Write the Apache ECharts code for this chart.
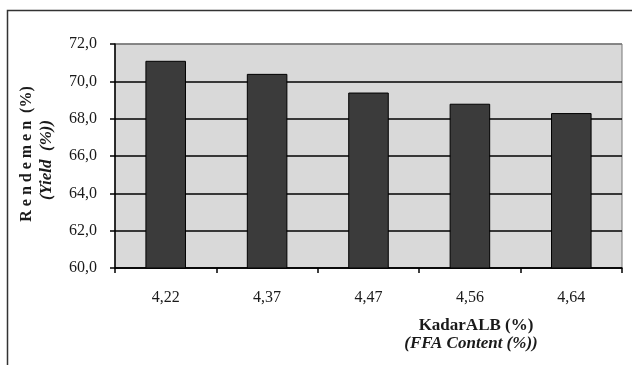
<!DOCTYPE html>
<html>
<head>
<meta charset="utf-8">
<script src="https://cdn.jsdelivr.net/npm/echarts@6/dist/echarts.min.js"></script>
<style>
    html, body { margin: 0; padding: 0; background: #fff; }
    #chart { width: 632px; height: 365px; }
</style>
</head>
<body>
<div id="chart"></div>
<script type="text/javascript">
    // data
    var kadarAlb = ['4,22', '4,37', '4,47', '4,56', '4,64'];
    var rendemen = [71.1, 70.4, 69.4, 68.8, 68.3];
    var yTicks = [60, 62, 64, 66, 68, 70, 72];

    var serif = '"Liberation Serif", "DejaVu Serif", serif';

    var myChart = echarts.init(document.getElementById('chart'));

    var option = {
        backgroundColor: '#fff',
        animation: false,
        grid: {
            left: 115,
            right: 10,
            top: 44,
            bottom: 97,
            show: true,
            backgroundColor: '#d9d9d9',
            borderColor: '#777',
            borderWidth: 1
        },
        xAxis: {
            type: 'category',
            data: kadarAlb,
            boundaryGap: true,
            axisLine: { lineStyle: { color: '#000', width: 1.5 } },
            axisTick: { show: true, alignWithLabel: false, length: 5, lineStyle: { color: '#000', width: 1.5 } },
            axisLabel: { color: '#1a1a1a', fontFamily: serif, fontSize: 16, margin: 22 },
            splitLine: { show: false }
        },
        yAxis: {
            type: 'value',
            min: yTicks[0],
            max: yTicks[yTicks.length - 1],
            interval: 2,
            axisLine: { show: true, lineStyle: { color: '#000', width: 1.5 } },
            axisTick: { show: true, length: 5, lineStyle: { color: '#000', width: 1.5 } },
            axisLabel: {
                color: '#1a1a1a', fontFamily: serif, fontSize: 16, margin: 18,
                formatter: function (v) { return v.toFixed(1).replace('.', ','); }
            },
            splitLine: {
                show: true,
                lineStyle: { color: ['#000', '#000', '#000', '#000', '#000', '#000', '#777'], width: 1.5 }
            }
        },
        graphic: [
            {
                type: 'rect',
                shape: { x: 7.5, y: 10.5, width: 700, height: 400 },
                style: { fill: 'none', stroke: '#333', lineWidth: 1.5 },
                silent: true
            },
            {
                type: 'text',
                x: 27, y: 154, rotation: Math.PI / 2,
                style: {
                    text: 'R e n d e m e n  (%)', fill: '#1a1a1a',
                    font: 'bold 16px ' + serif, align: 'center', verticalAlign: 'middle'
                }
            },
            {
                type: 'text',
                x: 47, y: 160, rotation: Math.PI / 2,
                style: {
                    text: '(Yield  (%))', fill: '#1a1a1a',
                    font: 'italic bold 17px ' + serif, align: 'center', verticalAlign: 'middle'
                }
            },
            {
                type: 'text',
                x: 476, y: 326,
                style: {
                    text: 'KadarALB (%)', fill: '#1a1a1a',
                    font: 'bold 17px ' + serif, align: 'center', verticalAlign: 'middle'
                }
            },
            {
                type: 'text',
                x: 471, y: 344,
                style: {
                    text: '(FFA Content (%))', fill: '#1a1a1a',
                    font: 'italic bold 17px ' + serif, align: 'center', verticalAlign: 'middle'
                }
            }
        ],
        series: [
            {
                name: 'Rendemen',
                type: 'bar',
                data: rendemen,
                barWidth: '40%',
                itemStyle: { color: '#3b3b3b', borderColor: '#000', borderWidth: 1 }
            }
        ]
    };

    myChart.setOption(option);
</script>
</body>
</html>
